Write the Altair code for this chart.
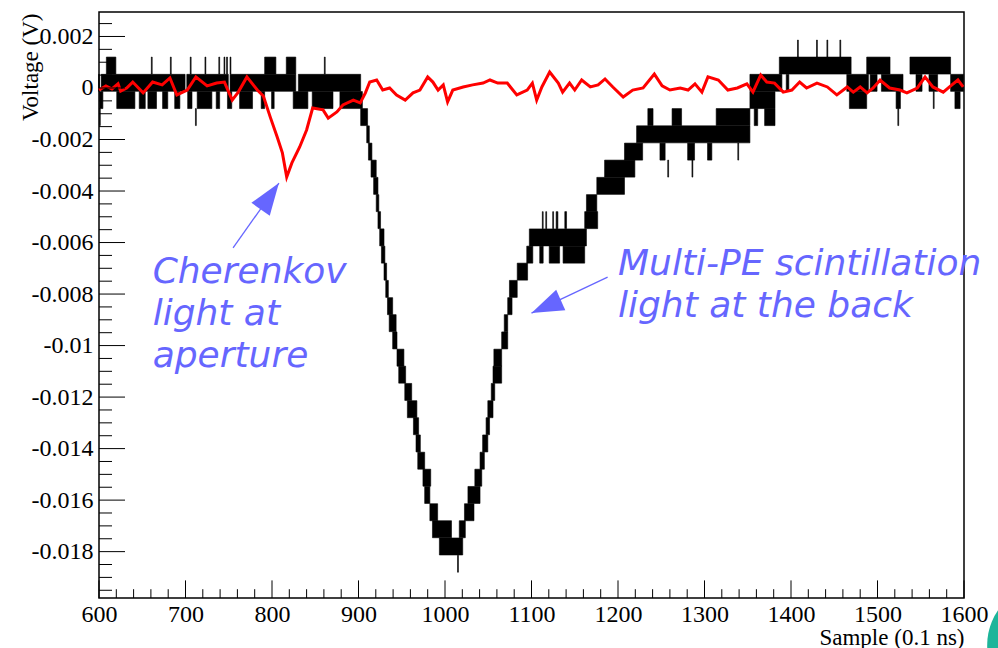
import altair as alt
import pandas as pd

# ---------------- axis ticks ----------------
X_MAJOR = [600, 700, 800, 900, 1000, 1100, 1200, 1300, 1400, 1500, 1600]
X_MINOR = [620, 640, 660, 680, 720, 740, 760, 780, 820, 840, 860, 880,
           920, 940, 960, 980, 1020, 1040, 1060, 1080, 1120, 1140, 1160, 1180,
           1220, 1240, 1260, 1280, 1320, 1340, 1360, 1380, 1420, 1440, 1460, 1480,
           1520, 1540, 1560, 1580]
Y_MAJOR = [0.002, 0.0, -0.002, -0.004, -0.006, -0.008, -0.01, -0.012,
           -0.014, -0.016, -0.018]
Y_MINOR = [0.0025, 0.0015, 0.001, 0.0005, -0.0005, -0.001, -0.0015, -0.0025,
           -0.003, -0.0035, -0.0045, -0.005, -0.0055, -0.0065, -0.007, -0.0075,
           -0.0085, -0.009, -0.0095, -0.0105, -0.011, -0.0115, -0.0125, -0.013,
           -0.0135, -0.0145, -0.015, -0.0155, -0.0165, -0.017, -0.0175, -0.0185,
           -0.019, -0.0195]

# ---------------- black trace (ADC-quantised samples, stored as runs) -------
BLACK_START = [
    600, 603, 702, 752, 831,
    609, 661, 683, 706, 723, 739, 745, 748, 752, 792, 817, 861,
    601, 621, 647, 657, 674, 688, 703, 714, 736, 749, 763, 788, 800, 825, 847, 879,
    601, 712, 903,
    910, 912, 915, 918, 921, 923, 925, 927, 930, 932, 934, 936, 940, 945, 947,
    954, 957, 964, 967, 969, 975, 977, 983, 986, 994, 1015,
    1017, 1023, 1027, 1035, 1041, 1044, 1048, 1050, 1054, 1056, 1057, 1066,
    1069, 1073, 1075, 1084, 1095, 1098,
    1110, 1121, 1137,
    1113, 1117, 1125, 1129, 1139,
    1162, 1164, 1176, 1185, 1208, 1222,
    1235, 1263, 1314,
    1249, 1281, 1304, 1339,
    1258, 1286,
    1353, 1468, 1522, 1565, 1590,
    1358, 1370, 1524,
    1353, 1395, 1465, 1492, 1505, 1545, 1560, 1585,
    1387, 1488, 1538,
    1408, 1430, 1442, 1457,
]
BLACK_END = [
    601, 700, 750, 828, 903,
    620, 662, 684, 707, 724, 740, 746, 749, 753, 805, 828, 862,
    605, 642, 654, 667, 680, 694, 708, 731, 740, 754, 778, 792, 803, 842, 871, 905,
    602, 713, 911,
    913, 916, 921, 923, 924, 926, 930, 931, 933, 935, 940, 944, 945, 953, 955,
    962, 968, 970, 972, 977, 984, 983, 992, 1008, 1021, 1016,
    1024, 1034, 1041, 1043, 1046, 1050, 1052, 1056, 1058, 1066, 1066, 1073,
    1073, 1078, 1084, 1096, 1102, 1164,
    1114, 1133, 1162,
    1114, 1118, 1126, 1131, 1141,
    1177, 1176, 1208, 1220, 1229, 1353,
    1241, 1274, 1353,
    1255, 1289, 1309, 1340,
    1259, 1287,
    1382, 1488, 1527, 1566, 1596,
    1362, 1382, 1525,
    1390, 1398, 1490, 1500, 1530, 1552, 1570, 1600,
    1470, 1515, 1585,
    1409, 1431, 1443, 1458,
]
BLACK_V = [
    0.0002, 0.0002, 0.0002, 0.0002, 0.0002,
    0.00087, 0.00087, 0.00087, 0.00087, 0.00087, 0.00087, 0.00087, 0.00087,
    0.00087, 0.00087, 0.00087, 0.00087,
    -0.00047, -0.00047, -0.00047, -0.00047, -0.00047, -0.00047, -0.00047, -0.00047,
    -0.00047, -0.00047, -0.00047, -0.00047, -0.00047, -0.00047, -0.00047, -0.00047,
    -0.00113, -0.00113, -0.00113,
    -0.0018, -0.00247, -0.00313, -0.0038, -0.00447, -0.00513, -0.0058, -0.00647,
    -0.00713, -0.0078, -0.00847, -0.00913, -0.0098, -0.01047, -0.01113,
    -0.0118, -0.01247, -0.01313, -0.0138, -0.01447, -0.01513, -0.0158, -0.01647,
    -0.01713, -0.0178, -0.01847,
    -0.01713, -0.01647, -0.0158, -0.01513, -0.01447, -0.0138, -0.01313, -0.01247,
    -0.0118, -0.01113, -0.01047, -0.0098,
    -0.00913, -0.00847, -0.0078, -0.00713, -0.00647, -0.0058,
    -0.00647, -0.00647, -0.00647,
    -0.00513, -0.00513, -0.00513, -0.00513, -0.00513,
    -0.00513, -0.00447, -0.0038, -0.00313, -0.00247, -0.0018,
    -0.00113, -0.00113, -0.00113,
    -0.00247, -0.00247, -0.00247, -0.00247,
    -0.00313, -0.00313,
    -0.00047, -0.00047, -0.00047, -0.00047, -0.00047,
    -0.00113, -0.00113, -0.00113,
    0.0002, 0.0002, 0.0002, 0.0002, 0.0002, 0.0002, 0.0002, 0.0002,
    0.00087, 0.00087, 0.00087,
    0.00153, 0.00153, 0.00153, 0.00153,
]
BLACK_ERR = 0.00033  # half height of the error bars

# ---------------- red trace ----------------
RED_SAMPLE = [600, 608, 615, 622, 625, 632, 639, 651, 662, 673, 682, 690, 702, 712,
              725, 736, 745, 754, 761, 771, 783, 790, 798, 806, 812, 817, 823, 832,
              840, 847, 859, 865, 875, 882, 894, 902, 908, 913, 921, 928, 936, 944,
              954, 963, 971, 980, 986, 992, 998, 1003, 1009, 1021, 1032, 1044, 1052,
              1061, 1072, 1083, 1095, 1101, 1106, 1112, 1121, 1131, 1136, 1144, 1150,
              1158, 1168, 1177, 1185, 1194, 1206, 1217, 1229, 1242, 1251, 1260, 1272,
              1281, 1289, 1297, 1304, 1316, 1327, 1338, 1349, 1356, 1365, 1372, 1381,
              1391, 1401, 1410, 1418, 1430, 1442, 1453, 1465, 1472, 1480, 1488, 1495,
              1503, 1514, 1526, 1534, 1546, 1555, 1564, 1576, 1586, 1593, 1599]
RED_V = [-0.00008, 0.00008, -0.00004, 0.00016, -0.00012, 0.0, 0.00023, -0.00019,
         0.00023, 0.00012, 0.00039, -0.00027, -0.00008, 0.00043, 0.00008, 0.00019,
         0.00023, -0.00047, -0.00016, 0.00043, -0.00008, -0.00031, -0.00113, -0.0019,
         -0.00252, -0.00346, -0.00291, -0.00229, -0.00163, -0.00078, -0.00085,
         -0.00117, -0.00093, -0.00066, -0.00047, -0.00058, -0.00019, 0.00023,
         0.00031, -0.00008, 0.0, -0.00027, -0.00047, -0.00019, -0.00008, 0.00043,
         0.00023, -0.00008, 0.00012, -0.00054, -0.00008, 0.00004, 0.00012, 0.00019,
         0.00031, 0.00019, 0.00019, -0.00027, -0.00008, 0.00019, -0.00047, 0.00004,
         0.00062, 0.00019, -0.00016, 0.00019, -0.00008, 0.00031, 0.00004, 0.00012,
         0.00035, 0.00004, -0.00035, -0.00008, 0.0, 0.00054, 0.00008, -0.00008, 0.0,
         -0.00008, 0.00016, -0.00016, 0.00043, 0.00031, -0.00008, 0.0, 0.00016,
         -0.00016, 0.0005, 0.00023, 0.00019, -0.00016, -0.00008, 0.00023, 0.0,
         0.00019, 0.00004, -0.00027, 0.00004, -0.00016, 0.00004, -0.00019, 0.0,
         0.00031, 0.0, -0.00008, -0.00019, 0.0, 0.00043, 0.00004, -0.00016, 0.00012,
         0.00031, 0.00004]

# ---------------- annotations ----------------
ANNOT_TEXT = ["Cherenkov\nlight at\naperture", "Multi-PE scintillation\nlight at the back"]
ANNOT_X = [662, 1200]
ANNOT_Y = [-0.00757, -0.00726]
ARROW_X0 = [755, 1188]
ARROW_Y0 = [-0.00621, -0.00734]
ARROW_X1 = [808, 1100]
ARROW_Y1 = [-0.00369, -0.00874]
ARROW_ANGLE = [35, 246]

# ---------------- build ----------------
W, H = 865, 586
BLUE = "#6666ff"

xs = alt.Scale(domain=[600, 1600], nice=False, zero=False)
ys = alt.Scale(domain=[-0.0198, 0.00295], nice=False, zero=False)

black = pd.DataFrame({"x": BLACK_START, "x2": BLACK_END, "v": BLACK_V})
black["x"] = black["x"] - 0.5
black["x2"] = black["x2"] - 0.5
black["y"] = black["v"] - BLACK_ERR
black["y2"] = black["v"] + BLACK_ERR

red = pd.DataFrame({"x": RED_SAMPLE, "y": RED_V})
ann = pd.DataFrame({"x": ANNOT_X, "y": ANNOT_Y, "t": ANNOT_TEXT})
arr = pd.DataFrame({"x": ARROW_X0, "y": ARROW_Y0, "x2": ARROW_X1, "y2": ARROW_Y1,
                    "a": ARROW_ANGLE})

x_axis = alt.Axis(values=X_MAJOR, format="d", ticks=False, domain=False, grid=False,
                  labelFont="Liberation Serif", labelFontSize=24, labelColor="black",
                  labelPadding=4, labelFlush=False, labelOverlap=False,
                  title="Sample (0.1 ns)", titleFont="Liberation Serif",
                  titleFontSize=23, titleFontWeight="normal", titleColor="black",
                  titleX=W, titleY=46, titleAlign="right", titleBaseline="alphabetic")
y_axis = alt.Axis(values=Y_MAJOR, ticks=False, domain=False, grid=False,
                  labelExpr="datum.value == 0 ? '0' : (datum.value < 0 ? '-' : '') + format(abs(datum.value), '~g')",
                  labelFont="Liberation Serif", labelFontSize=24, labelColor="black",
                  labelPadding=6, labelFlush=False, labelOverlap=False,
                  title="Voltage (V)", titleFont="Liberation Serif", titleFontSize=23,
                  titleFontWeight="normal", titleColor="black", titleAngle=270,
                  titleX=-62, titleY=1, titleAlign="right", titleBaseline="alphabetic")

X = lambda f="x:Q": alt.X(f, scale=xs, axis=x_axis)
Y = lambda f="y:Q": alt.Y(f, scale=ys, axis=y_axis)

black_layer = alt.Chart(black).mark_rect(color="black", stroke="black", strokeWidth=0.6).encode(
    x=X(), x2="x2:Q", y=Y(), y2="y2:Q",
)

red_layer = alt.Chart(red).mark_line(color="#ff0000", strokeWidth=3).encode(
    x=X(), y=Y(),
)

def xtick(vals, length):
    return alt.Chart(pd.DataFrame({"x": vals})).mark_rule(color="black", strokeWidth=1).encode(
        x=X(), y=alt.value(H), y2=alt.value(H - length))

def ytick(vals, length):
    return alt.Chart(pd.DataFrame({"y": vals})).mark_rule(color="black", strokeWidth=1).encode(
        y=Y(), x=alt.value(0), x2=alt.value(length))

text_layer = alt.Chart(ann).mark_text(
    align="left", baseline="alphabetic", font="DejaVu Sans", fontStyle="italic",
    fontSize=36, lineHeight=42, color=BLUE, lineBreak="\n").encode(
    x=X(), y=Y(), text="t:N")

arrow_line = alt.Chart(arr).mark_rule(color=BLUE, strokeWidth=1.3).encode(
    x=X(), y=Y(), x2="x2:Q", y2="y2:Q")

arrow_head = alt.Chart(arr).mark_point(
    shape="M0,0L0.7,2L-0.7,2Z", filled=True, color=BLUE, opacity=1, size=1024).encode(
    x=X("x2:Q"), y=Y("y2:Q"),
    angle=alt.Angle("a:Q", scale=None))

deco = alt.Chart(pd.DataFrame({"k": [0]})).mark_point(
    shape="circle", filled=True, color="#1db59a", opacity=1, size=14800).encode(
    x=alt.value(949), y=alt.value(633))

chart = alt.layer(
    black_layer, red_layer,
    xtick(X_MAJOR, 17.6), xtick(X_MINOR, 8.8),
    ytick(Y_MAJOR, 26), ytick(Y_MINOR, 13),
    arrow_line, arrow_head, text_layer, deco,
).properties(
    width=W, height=H,
    autosize=alt.AutoSizeParams(type="none"),
    padding={"left": 99, "top": 12, "right": 34, "bottom": 50},
    background="white",
).configure_view(stroke="black", strokeWidth=1.5)

chart.save("out.html", embed_options={"renderer": "svg", "actions": False})
